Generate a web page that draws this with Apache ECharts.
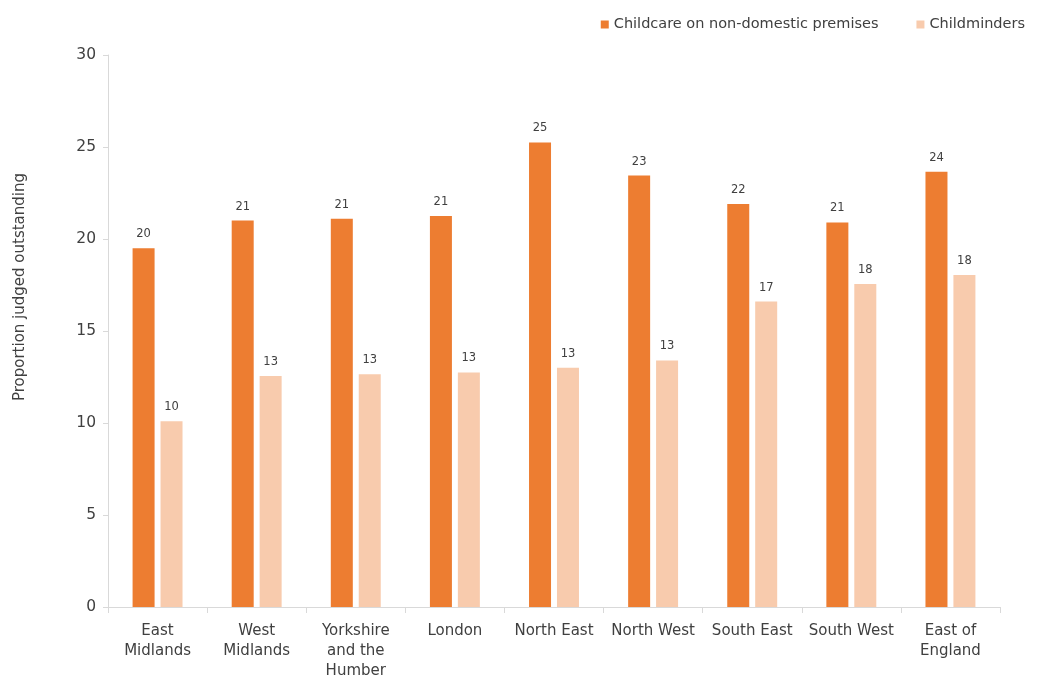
<!DOCTYPE html>
<html>
<head>
<meta charset="utf-8">
<script src="https://cdn.jsdelivr.net/npm/echarts@6/dist/echarts.min.js"></script>
<style>html,body{margin:0;padding:0;background:#fff}#c{width:1044px;height:676px}</style>
</head>
<body>
<div id="c"></div>
<script>
const categories = ['East\nMidlands','West\nMidlands','Yorkshire\nand the\nHumber','London','North East','North West','South East','South West','East of\nEngland'];
const childcareValues = [19.5, 21.0, 21.1, 21.25, 25.25, 23.45, 21.9, 20.9, 23.65];
const childminderValues = [10.1, 12.55, 12.65, 12.75, 13.0, 13.4, 16.6, 17.55, 18.05];
const yTicks = [0, 5, 10, 15, 20, 25, 30];
const seriesNames = ['Childcare on non-domestic premises', 'Childminders'];

const FONT = 'DejaVu Sans';
const chart = echarts.init(document.getElementById('c'), null, {renderer: 'canvas'});
const labelCfg = {
  show: true, position: 'top', distance: 8, color: '#404040', fontSize: 11.5, fontFamily: FONT,
  formatter: p => Math.round(p.value)
};
chart.setOption({
  animation: false,
  backgroundColor: '#ffffff',
  textStyle: {fontFamily: FONT},
  legend: {
    top: 12, right: 14, itemWidth: 8, itemHeight: 8, itemGap: 38,
    icon: 'rect',
    textStyle: {fontSize: 14.5, color: '#404040', fontFamily: FONT},
    data: seriesNames
  },
  grid: {left: 108, right: 44, top: 55, bottom: 69, containLabel: false, outerBoundsMode: 'none'},
  xAxis: {
    type: 'category', data: categories,
    axisLine: {show: true, lineStyle: {color: '#d9d9d9', width: 1}},
    axisTick: {show: true, length: 6, lineStyle: {color: '#d9d9d9'}},
    axisLabel: {color: '#404040', fontSize: 15, fontFamily: FONT, lineHeight: 20, margin: 14, interval: 0}
  },
  yAxis: {
    type: 'value', min: yTicks[0], max: yTicks[yTicks.length-1], interval: 5,
    name: 'Proportion judged outstanding', nameLocation: 'middle', nameGap: 80, nameRotate: 90,
    nameTextStyle: {color: '#404040', fontSize: 15, fontFamily: FONT, padding: [0, 0, 0, 88]},
    axisLine: {show: true, lineStyle: {color: '#d9d9d9', width: 1}},
    axisTick: {show: true, length: 5, lineStyle: {color: '#d9d9d9'}},
    splitLine: {show: false},
    axisLabel: {color: '#404040', fontSize: 15.5, fontFamily: FONT, margin: 12}
  },
  series: [
    {name: seriesNames[0], type: 'bar', data: childcareValues, barWidth: 22, barGap: '27%',
     itemStyle: {color: '#ED7D31'}, label: labelCfg},
    {name: seriesNames[1], type: 'bar', data: childminderValues, barWidth: 22,
     itemStyle: {color: '#F8CBAD'}, label: labelCfg}
  ]
});
</script>
</body>
</html>
